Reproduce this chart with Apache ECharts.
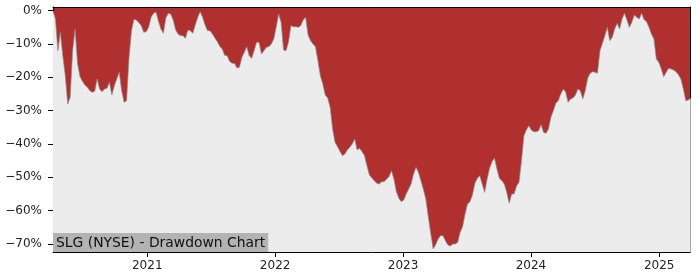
<!DOCTYPE html>
<html>
<head>
<meta charset="utf-8">
<script src="https://cdn.jsdelivr.net/npm/echarts@6/dist/echarts.min.js"></script>
<style>html,body{margin:0;padding:0;background:#fff}#c{width:700px;height:280px}</style>
</head>
<body>
<div id="c"></div>
<script>
// Weekly drawdown (%) starting 2020-04-07
const startDate = [2020, 3, 7];
const stepDays = 7;
const drawdown = [
0,-2.5,-12,-6.5,-13.5,-19.5,-28,-26,-12,-5.5,
-15.8,-19.8,-21.2,-22.3,-23,-24,-24.5,-24.2,-20.5,-23.5,
-24.3,-23.5,-23.3,-21.5,-25.3,-22.5,-20.5,-18.5,-24,-27.5,
-27,-14,-6,-2.6,-2.8,-3.6,-4.5,-6.5,-6.3,-5,
-2,-0.8,-0.4,-3.2,-5.5,-6.8,-2.2,-0.8,-1.0,-2.8,
-5.8,-7.0,-7.5,-7.5,-8.3,-5.8,-6,-6.8,-4.3,-2,
-0.3,-2,-4.3,-6,-6,-7,-8.2,-9.3,-10.7,-11.5,
-13.4,-13.5,-15.2,-15.8,-15.8,-17.2,-17,-14,-12.5,-10.8,
-13.5,-14.3,-12,-9.5,-9.5,-13,-12,-11,-10.8,-10,
-8.5,-5,-1,-3.5,-11.8,-12,-9.5,-4.5,-4.8,-4.8,
-5,-4.5,-2.8,-2,-7.3,-9,-10,-10.8,-15,-19.5,
-22,-25.3,-26.2,-29,-35.5,-39.5,-40.8,-42.2,-43.5,-43,
-41.8,-41,-40,-38.5,-41.8,-41.3,-42.3,-43.5,-46.5,-49.3,
-50.2,-51,-51.8,-52,-51.3,-51.3,-50.5,-49.8,-48,-50.5,
-54.3,-56.3,-57.3,-56.8,-55,-53.5,-52,-49,-47,-48.5,
-51,-53.6,-56.5,-61.8,-66.8,-71.5,-70.2,-68.5,-67.5,-67.5,
-69,-70.3,-70.6,-70,-70,-69.5,-66.5,-64.8,-61,-58,
-57.3,-55.3,-51.8,-50.3,-49.5,-52,-54.5,-50.5,-47.3,-45.3,
-44.2,-47.5,-50.3,-51,-52,-54.5,-57.8,-55,-55,-52.6,
-51.5,-45,-37.5,-35.8,-34.5,-35.8,-36.3,-36.3,-36,-34.2,
-36.5,-36.8,-35.5,-32,-30,-27.8,-27,-25,-23.6,-24.3,
-27.5,-26.5,-26.2,-25.3,-23.5,-24,-26.5,-24,-20.3,-18.8,
-18.3,-18.5,-18.8,-12,-9.8,-7.5,-5,-9,-8,-5.5,
-3.8,-5.5,-2.5,-0.8,-2.8,-5,-3.5,-1.3,-2,-2.5,
-0.8,-2.7,-3.3,-5,-7,-8.5,-14.5,-15.5,-17.5,-19.8,
-18.5,-17.3,-17.5,-17.8,-18.3,-19.2,-20.5,-23.5,-27,-26.8,
-26.3
];
const yTicks = [0, -10, -20, -30, -40, -50, -60, -70];
const xTickYears = [2021, 2022, 2023, 2024, 2025];
const titleText = 'SLG (NYSE) - Drawdown Chart';

const data = drawdown.map((v, i) => {
  const d = new Date(startDate[0], startDate[1], startDate[2] + i * stepDays);
  return [d.getTime(), v];
});
const xTickVals = xTickYears.map(y => new Date(y, 0, 1).getTime());
const xMin = new Date(2020, 3, 7).getTime();
const xMax = new Date(2025, 2, 30).getTime();
const font = 'DejaVu Sans';

const chart = echarts.init(document.getElementById('c'), null, {renderer: 'canvas'});
chart.setOption({
  animation: false,
  backgroundColor: '#ffffff',
  title: {
    text: titleText,
    left: 53, top: 233,
    padding: [3, 3, 2, 3],
    backgroundColor: '#b3b3b3',
    textStyle: {fontFamily: font, fontSize: 13.9, fontWeight: 'normal', color: '#111'}
  },
  grid: {left: 53, right: 10, top: 7, bottom: 28, show: true, backgroundColor: '#b03030', borderWidth: 0},
  xAxis: [{
    type: 'value', min: xMin, max: xMax,
    axisLine: {show: true, onZero: false, lineStyle: {color: '#000', width: 1}},
    axisTick: {show: true, length: 5, customValues: xTickVals, lineStyle: {color: '#000'}},
    axisLabel: {
      customValues: xTickVals, margin: 8,
      fontFamily: font, fontSize: 12, color: '#222',
      formatter: v => String(new Date(v).getFullYear())
    },
    splitLine: {show: false}
  }, {
    type: 'value', position: 'top', min: xMin, max: xMax,
    axisLine: {show: true, onZero: false, lineStyle: {color: '#000', width: 1}},
    axisTick: {show: false}, axisLabel: {show: false}, splitLine: {show: false}
  }],
  yAxis: [{
    type: 'value', min: -72.4, max: 1.1,
    axisLine: {show: true, onZero: false, lineStyle: {color: '#000', width: 1}},
    axisTick: {show: true, length: 5, customValues: yTicks, lineStyle: {color: '#000'}},
    axisLabel: {
      customValues: yTicks, margin: 11,
      fontFamily: font, fontSize: 12, color: '#222',
      formatter: v => (v < 0 ? '\u2212' + Math.abs(v) : String(v)) + '%'
    },
    splitLine: {show: false}
  }, {
    type: 'value', position: 'right', min: -72.4, max: 1.1,
    axisLine: {show: true, onZero: false, lineStyle: {color: '#000', width: 1}},
    axisTick: {show: false}, axisLabel: {show: false}, splitLine: {show: false}
  }],
  series: [{
    type: 'line',
    xAxisIndex: 0, yAxisIndex: 0,
    data: data,
    symbol: 'none',
    clip: true,
    lineStyle: {color: '#8c8c8c', width: 0.7},
    areaStyle: {color: '#ececec', origin: 'start', opacity: 1}
  }]
});
</script>
</body>
</html>
